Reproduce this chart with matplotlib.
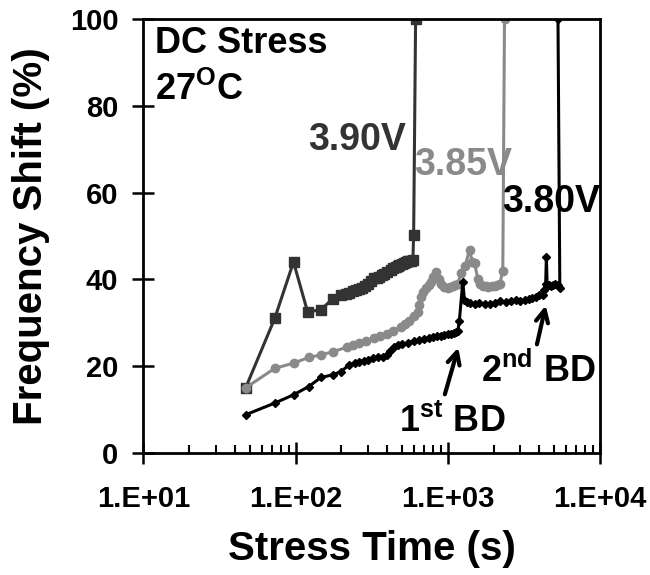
import matplotlib.pyplot as plt
from matplotlib.ticker import LogLocator, FixedLocator

plt.rcParams['font.family'] = ['Liberation Sans', 'DejaVu Sans']
plt.rcParams['font.weight'] = 'bold'
plt.rcParams['mathtext.default'] = 'regular'

# 3.90 V (dark squares)
t_390 = [47, 73, 97, 120, 147, 175, 200, 215, 225, 240, 250, 262, 275, 288, 300, 315,
         330, 342, 355, 368, 380, 400, 425, 440, 455, 468, 480, 500, 515, 530, 545,
         560, 575, 590, 597, 615]
f_390 = [15, 31, 44, 32.5, 33, 35.5, 36.5, 36.6, 36.8, 37.2, 37.5, 37.7, 38, 38.5, 39,
         39.6, 40.2, 40.4, 40.6, 41, 41.2, 41.7, 42.2, 42.5, 42.8, 43, 43.3, 43.6, 43.8,
         44, 44.2, 44.2, 44.3, 44.4, 50.2, 100]

# 3.85 V (grey circles)
t_385 = [47, 73, 97, 122, 147, 175, 219, 240, 260, 290, 330, 360, 400, 440, 490, 525,
         560, 600, 634, 650, 667, 690, 720, 750, 776, 800, 838, 870, 904, 950, 1000,
         1040, 1080, 1120, 1163, 1225, 1300, 1390, 1450, 1500, 1580, 1640, 1700, 1780,
         1850, 1940, 2030, 2120, 2200, 2300, 2360]
f_385 = [15, 19.5, 20.7, 22, 22.6, 23.3, 24.4, 24.8, 25.3, 25.8, 26.4, 26.9, 27.5, 28.2,
         29, 29.8, 30.5, 31.5, 32.5, 34, 36, 37, 38, 38.8, 39.5, 40.5, 41.8, 40, 39, 38.3,
         38, 38.2, 38.5, 38.8, 39, 41.4, 43, 46.8, 44, 43.7, 40, 39, 38.5, 38.4, 38.3,
         38.4, 38.5, 38.7, 39, 42, 100]

# 3.80 V (black diamonds)
t_380 = [47, 73, 97, 122, 147, 175, 198, 225, 245, 260, 280, 300, 325, 350, 375, 400,
         420, 445, 470, 500, 550, 600, 650, 700, 750, 800, 850, 900, 950, 1000, 1050,
         1100, 1130, 1163, 1191, 1256, 1286, 1340, 1400, 1500, 1600, 1750, 1900, 2050,
         2200, 2400, 2600, 2800, 3000, 3200, 3400, 3600, 3800, 4000, 4200, 4300, 4400,
         4446, 4500, 4650, 4800, 4950, 5100, 5300, 5450, 5300]
f_380 = [8.8, 11.5, 13.4, 15.3, 17.4, 18, 18.7, 20.3, 20.7, 21, 21.2, 21.5, 21.8, 22,
         22.2, 22.5, 23.5, 24.5, 24.8, 25, 25.4, 25.8, 26, 26.3, 26.5, 26.8, 26.9, 27,
         27.1, 27.3, 27.4, 27.6, 27.8, 28, 30.3, 39.5, 35.3, 34.8, 34.5, 34.4, 34.5,
         34.3, 34.3, 34.6, 35, 34.8, 35, 35.2, 35, 35.3, 35.5, 35.8, 36, 36.3, 36.5,
         37.5, 39, 45.2, 38.5, 38.6, 38.5, 38.8, 39, 38.6, 38, 100]

fig = plt.figure(figsize=(6.5, 5.75), dpi=100)
ax = fig.add_axes([0.2205, 0.2122, 0.7025, 0.755])

ax.plot(t_390, f_390, color='#333333', marker='s', markersize=6.5, lw=2.2)
ax.plot(t_385, f_385, color='#8a8a8a', marker='o', markersize=6, lw=2.2)
ax.plot(t_380, f_380, color='black', marker='D', markersize=4.5, lw=2.2)

ax.set_xscale('log')
ax.set_xlim(10, 1e4)
ax.set_ylim(0, 100)
ax.xaxis.set_major_locator(FixedLocator([10, 100, 1000, 10000]))
ax.xaxis.set_minor_locator(LogLocator(base=10, subs=range(2, 10)))
ax.set_xticklabels(['1.E+01', '1.E+02', '1.E+03', '1.E+04'])
ax.set_yticks([0, 20, 40, 60, 80, 100])

for s in ax.spines.values():
    s.set_linewidth(2)
ax.tick_params(which='major', direction='inout', length=16, width=1.8, labelsize=21)
ax.tick_params(axis='x', which='major', pad=15)
ax.tick_params(axis='y', which='major', pad=10)
ax.tick_params(axis='x', which='minor', direction='in', length=6, width=1.5)

ax.set_xlabel('Stress Time (s)', fontsize=29, fontweight='bold', labelpad=12)
ax.set_ylabel('Frequency Shift (%)', fontsize=29, fontweight='bold', labelpad=14)

ax.text(12, 92.2, 'DC Stress', fontsize=26, va='baseline', ha='left')
ax.text(12, 81.3, '27$^{O}$C', fontsize=26, va='baseline', ha='left')

ax.text(121.6, 69.8, '3.90V', fontsize=27, color='#333333', va='baseline', ha='left')
ax.text(600, 64.1, '3.85V', fontsize=27, color='#8a8a8a', va='baseline', ha='left')
ax.text(2281, 55.5, '3.80V', fontsize=27, color='black', va='baseline', ha='left')

ax.text(478, 4.8, '1$^{st}$ BD', fontsize=26, va='baseline', ha='left')
ax.text(1660, 16.4, '2$^{nd}$ BD', fontsize=26, va='baseline', ha='left')

arrow = dict(arrowstyle='->', lw=3, color='black', mutation_scale=22)
ax.annotate('', xy=(1187, 24.9), xytext=(946, 12.9), arrowprops=arrow)
ax.annotate('', xy=(4446, 34.6), xytext=(3819, 24.4), arrowprops=arrow)

fig.savefig('out.png', dpi=100)
